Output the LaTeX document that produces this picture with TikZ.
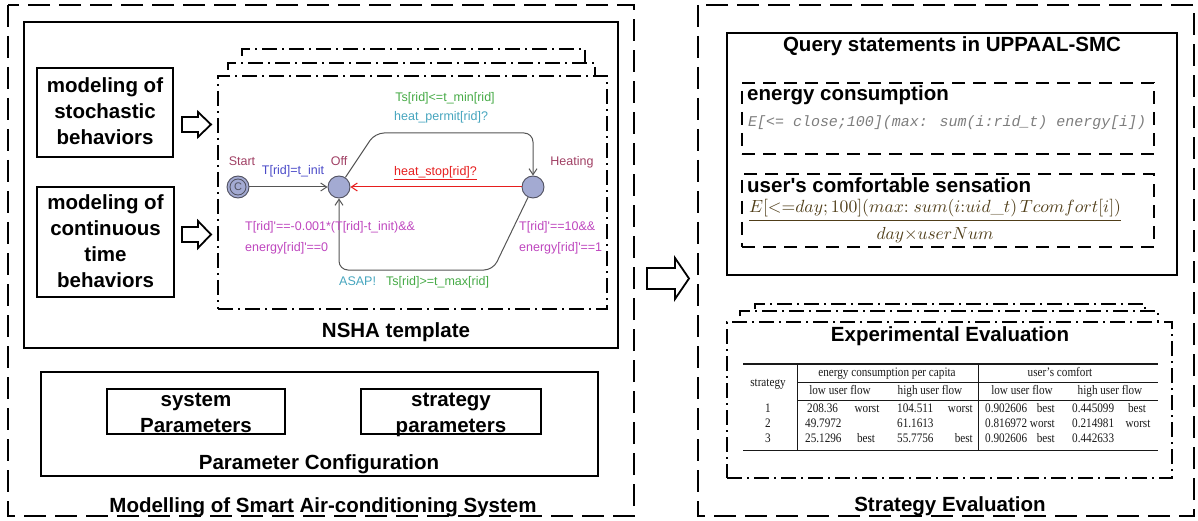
\documentclass[tikz,border=0pt]{standalone}
\usepackage{fontspec}
\usepackage{graphicx}
\usetikzlibrary{arrows.meta}
\newfontfamily\sansf{Liberation Sans}
\newfontfamily\serff[FakeStretch=0.86]{Liberation Serif}
\newfontfamily\monof{Liberation Mono}

\definecolor{locfill}{RGB}{163,170,210}
\definecolor{locline}{RGB}{80,80,95}
\definecolor{namecol}{RGB}{160,64,100}
\definecolor{asgcol}{RGB}{75,75,200}
\definecolor{grdcol}{RGB}{70,170,70}
\definecolor{syncol}{RGB}{70,165,190}
\definecolor{invcol}{RGB}{190,70,190}
\definecolor{stopcol}{RGB}{230,30,30}
\definecolor{edgecol}{RGB}{85,85,85}
\definecolor{qrycol}{RGB}{125,125,125}
\definecolor{fraccol}{RGB}{80,62,25}
\definecolor{tabcol}{RGB}{25,25,25}

\newcommand\hfnt{\sansf\bfseries\fontsize{20.5}{26}\selectfont}
\newcommand\ufnt{\sansf\fontsize{12.5}{15}\selectfont}
\newcommand\tfnt{\serff\fontsize{13}{14}\selectfont}
\newcommand\bxs{\rule[-5pt]{0pt}{20pt}}

\tikzset{
  odash/.style={draw, line width=2.2pt, dash pattern=on 22pt off 9pt},
  sbox/.style={draw, line width=1.8pt, inner sep=0pt},
  qdash/.style={draw, line width=1.8pt, dash pattern=on 13pt off 8pt},
  dd/.style={draw, line width=1.4pt, dash pattern=on 15pt off 5pt on 2pt off 5pt},
  head/.style={font=\hfnt, inner sep=0pt, text height=15pt, text depth=5pt},
  boxtxt/.style={font=\hfnt, align=center, inner sep=0pt},
  harrow/.style={draw, line width=1.8pt, fill=white, line join=miter},
  loc/.style={circle, fill=locfill, draw=locline, line width=0.9pt, minimum size=22pt, inner sep=0pt},
  ulbl/.style={font=\ufnt, inner sep=0pt, text height=9.2pt, text depth=2.7pt},
  edge/.style={draw=edgecol, line width=1pt, -{Straight Barb[length=6pt,width=8pt]}},
  tcell/.style={font=\tfnt, text=tabcol, inner sep=0pt, text height=9.3pt, text depth=2.8pt},
  trule/.style={draw=tabcol, line width=1.2pt},
  tline/.style={draw=tabcol, line width=0.6pt},
}

\begin{document}
\begin{tikzpicture}[x=1pt,y=-1pt]
\useasboundingbox (0,0) rectangle (1198,521);

% ---------------- left part: modelling ----------------
\draw[odash] (8,5) rectangle (634,516);
\node[head] (mtitle) at (323,507) {Modelling of Smart Air-conditioning System};

\node[sbox, minimum width=594pt, minimum height=326pt] (nsha) at (321,185) {};
\node[head] (nshat) at (396,332) {NSHA template};

\node[sbox, minimum width=136pt, minimum height=89pt] (stoch) at (105,112.5) {};
\node[boxtxt] (stocht) at (105,114) {\bxs modeling of\\\bxs stochastic\\\bxs behaviors};
\node[sbox, minimum width=137pt, minimum height=110pt] (cont) at (105.5,242) {};
\node[boxtxt] (contt) at (105.5,243.5) {\bxs modeling of\\\bxs continuous\\\bxs time\\\bxs behaviors};

% block arrows into the template
\draw[harrow] (182,117) -- (198,117) -- (198,112) -- (211,124.5) -- (198,137) -- (198,132) -- (182,132) -- cycle;
\draw[harrow] (182,227) -- (198,227) -- (198,221) -- (211,234.5) -- (198,248) -- (198,242) -- (182,242) -- cycle;

% stacked template frames
\draw[dd] (242,56) -- (242,49) -- (585,49) -- (585,62);
\draw[dd] (228,70) -- (228,63) -- (595,63) -- (595,75);
\node[dd, minimum width=389pt, minimum height=233pt] (frame) at (412.5,192.5) {};

% automaton
\node[loc] (start) at (238,187) {};
\draw[locline, line width=0.8pt] (start.center) circle (8pt);
\node[font=\sansf\fontsize{11}{12}\selectfont, text=locline, inner sep=0pt] (startc) at (start) {C};
\node[loc] (off) at (339,187) {};
\node[loc] (heat) at (533,187) {};

\coordinate (up1) at (375,133);
\coordinate (up2) at (533,133);
\coordinate (dn1) at (493,270);
\coordinate (dn2) at (339,270);

\draw[edge] (start) -- (off);
\draw[edge, rounded corners=9pt] (off) -- (up1) -- (up2) -- (heat);
\draw[edge, rounded corners=9pt] (heat) -- (dn1) -- (dn2) -- (off);
\draw[edge, draw=stopcol] (heat) -- (off);

\node[ulbl, text=namecol] (nstart) at (242,162) {Start};
\node[ulbl, text=asgcol] (lasg) at (293,171) {T[rid]=t\_init};
\node[ulbl, text=namecol] (noff) at (339,162) {Off};
\node[ulbl, text=namecol] (nheat) at (572,162) {Heating};
\node[ulbl, text=grdcol] (g1) at (445,98) {Ts[rid]<=t\_min[rid]};
\node[ulbl, text=syncol, anchor=west] (s1) at (394,117) {heat\_permit[rid]?};
\node[ulbl, text=stopcol, anchor=west] (s2) at (394,172) {\underline{heat\_stop[rid]?}};
\node[ulbl, text=invcol, anchor=west] (i1) at (245,227) {T[rid]\textquotesingle==-0.001*(T[rid]-t\_init)\&\&};
\node[ulbl, text=invcol, anchor=west] (i2) at (245,248) {energy[rid]\textquotesingle==0};
\node[ulbl, text=invcol, anchor=west] (i3) at (519,227) {T[rid]\textquotesingle==10\&\&};
\node[ulbl, text=invcol, anchor=west] (i4) at (519,248) {energy[rid]\textquotesingle==1};
\node[ulbl, text=syncol, anchor=west] (s3) at (339,282) {ASAP!};
\node[ulbl, text=grdcol, anchor=west] (g2) at (386,282) {Ts[rid]>=t\_max[rid]};

% parameter configuration
\node[sbox, minimum width=557pt, minimum height=104pt] (param) at (319.5,424) {};
\node[head] (paramt) at (319,464) {Parameter Configuration};
\node[sbox, minimum width=178pt, minimum height=45pt] (sysp) at (196,411.5) {};
\node[boxtxt] (syspt) at (196,414) {\bxs system\\\bxs Parameters};
\node[sbox, minimum width=180pt, minimum height=45pt] (strp) at (451,411.5) {};
\node[boxtxt] (strpt) at (451,414) {\bxs strategy\\\bxs parameters};

% ---------------- arrow between parts ----------------
\draw[harrow] (647,268) -- (675,268) -- (675,258) -- (689,278.5) -- (675,299) -- (675,289) -- (647,289) -- cycle;

% ---------------- right part: evaluation ----------------
\draw[odash] (698,5) rectangle (1194,516);
\node[head] (stitle) at (950,506) {Strategy Evaluation};

\node[sbox, minimum width=450pt, minimum height=242pt] (qbox) at (952,154) {};
\node[head] (qtitle) at (952,47) {Query statements in UPPAAL-SMC};

\node[qdash, minimum width=412pt, minimum height=71pt] (ebox) at (948,118.5) {};
\node[head, anchor=west] (etitle) at (747,96) {energy consumption};
\node[anchor=west, inner sep=0pt, text=qrycol] (eform) at (748,123)
  {\resizebox{398pt}{!}{\monof\itshape E[<= close;100](max: sum(i:rid\_t) energy[i])}};

\node[qdash, minimum width=412pt, minimum height=73pt] (ubox) at (948,210.5) {};
\node[head, anchor=west] (utitle) at (747,188) {user\textquotesingle s comfortable sensation};
\node[inner sep=0pt, text=fraccol] (unum) at (935,208)
  {\resizebox{372pt}{!}{$E[{<}{=}day;100](max{:}\;sum(i{:}uid\_t)\,Tcomfort[i])$}};
\draw[fraccol, line width=1pt] (749,221) -- (1121,221);
\node[inner sep=0pt, text=fraccol] (uden) at (935,235)
  {\resizebox{117pt}{!}{$day{\times}userNum$}};

% stacked evaluation frames
\draw[dd] (755,309) -- (755,304) -- (1145,304) -- (1145,311);
\draw[dd] (740,316) -- (740,311) -- (1158,311) -- (1158,322);
\node[dd, minimum width=445pt, minimum height=156pt] (evf) at (949.5,400) {};
\node[head] (evtitle) at (950,336) {Experimental Evaluation};

% results table
\draw[trule] (743,364) -- (1158,364);
\draw[tline] (797,382) -- (1158,382);
\draw[tline] (797,400) -- (1158,400);
\draw[trule] (743,450.5) -- (1158,450.5);
\draw[tline] (797,364) -- (797,450.5);
\draw[tline] (978,364) -- (978,450.5);

\node[tcell] (hstr) at (768,383) {strategy};
\node[tcell] (hen) at (887,373) {energy consumption per capita};
\node[tcell] (hco) at (1060,373) {user’s comfort};
\node[tcell] (hl1) at (840,391.5) {low user flow};
\node[tcell] (hh1) at (930,391.5) {high user flow};
\node[tcell] (hl2) at (1022,391.5) {low user flow};
\node[tcell] (hh2) at (1110,391.5) {high user flow};

\node[tcell] (r1s) at (768,409.5) {1};
\node[tcell, anchor=west] (r1a) at (807,409.5) {208.36};
\node[tcell] (r1b) at (867,409.5) {worst};
\node[tcell, anchor=west] (r1c) at (897,409.5) {104.511};
\node[tcell, anchor=east] (r1d) at (973,409.5) {worst};
\node[tcell, anchor=west] (r1e) at (985,409.5) {0.902606};
\node[tcell, anchor=east] (r1f) at (1055,409.5) {best};
\node[tcell, anchor=west] (r1g) at (1072,409.5) {0.445099};
\node[tcell] (r1h) at (1137,409.5) {best};

\node[tcell] (r2s) at (768,424.5) {2};
\node[tcell, anchor=west] (r2a) at (805,424.5) {49.7972};
\node[tcell, anchor=west] (r2c) at (897,424.5) {61.1613};
\node[tcell, anchor=west] (r2e) at (985,424.5) {0.816972};
\node[tcell, anchor=east] (r2f) at (1055,424.5) {worst};
\node[tcell, anchor=west] (r2g) at (1072,424.5) {0.214981};
\node[tcell] (r2h) at (1138,424.5) {worst};

\node[tcell] (r3s) at (768,439.5) {3};
\node[tcell, anchor=west] (r3a) at (805,439.5) {25.1296};
\node[tcell] (r3b) at (866,439.5) {best};
\node[tcell, anchor=west] (r3c) at (897,439.5) {55.7756};
\node[tcell, anchor=east] (r3d) at (973,439.5) {best};
\node[tcell, anchor=west] (r3e) at (985,439.5) {0.902606};
\node[tcell, anchor=east] (r3f) at (1055,439.5) {best};
\node[tcell, anchor=west] (r3g) at (1072,439.5) {0.442633};
\end{tikzpicture}
\end{document}
